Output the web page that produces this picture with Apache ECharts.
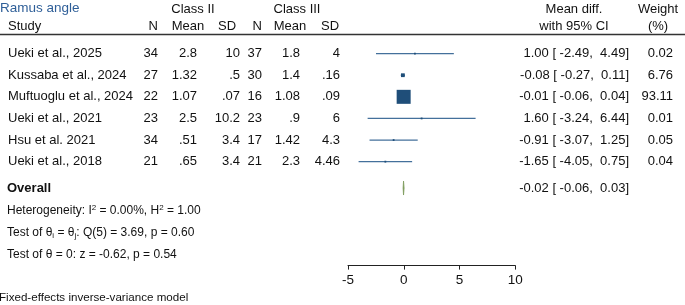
<!DOCTYPE html>
<html>
<head>
<meta charset="utf-8">
<script src="https://cdn.jsdelivr.net/npm/echarts@6/dist/echarts.min.js"></script>
<style>
  html, body { margin: 0; padding: 0; background: #fff; }
  #chart { width: 685px; height: 305px; }
</style>
</head>
<body>
<div id="chart"></div>
<script>
// data
const studies = ['Ueki et al., 2025', 'Kussaba et al., 2024', 'Muftuoglu et al., 2024', 'Ueki et al., 2021', 'Hsu et al. 2021', 'Ueki et al., 2018'];
const nII = ['34', '27', '22', '23', '34', '21'];
const meanII = ['2.8', '1.32', '1.07', '2.5', '.51', '.65'];
const sdII = ['10', '.5', '.07', '10.2', '3.4', '3.4'];
const nIII = ['37', '30', '16', '23', '17', '21'];
const meanIII = ['1.8', '1.4', '1.08', '.9', '1.42', '2.3'];
const sdIII = ['4', '.16', '.09', '6', '4.3', '4.46'];
const meanDiff = [1.00, -0.08, -0.01, 1.60, -0.91, -1.65];
const ciLow = [-2.49, -0.27, -0.06, -3.24, -3.07, -4.05];
const ciHigh = [4.49, 0.11, 0.04, 6.44, 1.25, 0.75];
const weight = [0.02, 6.76, 93.11, 0.01, 0.05, 0.04];
const overall = [-0.02, -0.06, 0.03]; // md, lo, hi
const xTicks = [-5, 0, 5, 10];

const FONT = '"Liberation Sans", Arial, Helvetica, sans-serif';
const TXT = '#111';
const FS = 13;
const SFS = 12; // stats lines
const overallRow = 7.22;
const maxW = Math.max(...weight);

const pad = (s, n) => (' '.repeat(Math.max(0, n - s.length)) + s);
const ciText = (m, l, h) => pad(m.toFixed(2), 5) + ' [' + pad(l.toFixed(2), 6) + ',' + pad(h.toFixed(2), 6) + ']';

var chart = echarts.init(document.getElementById('chart'), null, { renderer: 'canvas' });

let option = {
  animation: false,
  grid: { left: 348, right: 169.7, top: 32, bottom: 39.4 },
  xAxis: {
    type: 'value',
    min: xTicks[0],
    max: xTicks[xTicks.length - 1],
    interval: xTicks[1] - xTicks[0],
    axisLine: { show: true, onZero: false, lineStyle: { color: '#222', width: 1 } },
    axisTick: { show: true, length: 4, lineStyle: { color: '#222' } },
    axisLabel: { color: TXT, fontSize: 13.5, fontFamily: FONT, margin: 8 },
    splitLine: { show: false }
  },
  yAxis: { type: 'value', min: 0, max: 10.81, inverse: true, show: false },
  series: [
    {
      // confidence interval lines
      type: 'custom',
      encode: { x: [0, 1], y: 2 },
      data: studies.map((s, i) => [ciLow[i], ciHigh[i], i + 1]),
      renderItem: function (params, api) {
        const a = api.coord([api.value(0), api.value(2)]);
        const b = api.coord([api.value(1), api.value(2)]);
        return {
          type: 'line',
          shape: { x1: a[0], y1: a[1], x2: b[0], y2: b[1] },
          style: { stroke: '#44709b', lineWidth: 1.3 }
        };
      }
    },
    {
      // weight squares
      type: 'custom',
      encode: { x: 0, y: 1 },
      data: studies.map((s, i) => [meanDiff[i], i + 1, weight[i]]),
      renderItem: function (params, api) {
        const c = api.coord([api.value(0), api.value(1)]);
        const side = Math.max(14 * Math.sqrt(api.value(2) / maxW), 1.8);
        return {
          type: 'rect',
          shape: { x: c[0] - side / 2, y: c[1] - side / 2, width: side, height: side },
          style: { fill: '#1f4e79' }
        };
      }
    },
    {
      // overall diamond
      type: 'custom',
      encode: { x: [0, 1, 2], y: 3 },
      data: [[overall[1], overall[0], overall[2], overallRow]],
      renderItem: function (params, api) {
        const l = api.coord([api.value(0), api.value(3)]);
        const m = api.coord([api.value(1), api.value(3)]);
        const r = api.coord([api.value(2), api.value(3)]);
        const h = 7;
        return {
          type: 'polygon',
          shape: { points: [[l[0], l[1]], [m[0], m[1] - h], [r[0], r[1]], [m[0], m[1] + h]] },
          style: { fill: '#7c9a5b', stroke: '#7c9a5b', lineWidth: 0.8 }
        };
      }
    }
  ]
};
chart.setOption(option);

// table text, rows placed through the y axis
const yOf = v => chart.convertToPixel({ yAxisIndex: 0 }, v);
const txt = (x, y, text, align, extra) => ({
  type: 'text', x: x, y: y,
  style: Object.assign({ text: text, fill: TXT, font: FS + 'px ' + FONT, textAlign: align || 'left', textVerticalAlign: 'middle' }, extra || {})
});

const cols = [
  { vals: studies, x: 8, align: 'left' },
  { vals: nII, x: 158, align: 'right' },
  { vals: meanII, x: 197, align: 'right' },
  { vals: sdII, x: 240, align: 'right' },
  { vals: nIII, x: 262, align: 'right' },
  { vals: meanIII, x: 300, align: 'right' },
  { vals: sdIII, x: 340, align: 'right' },
  { vals: studies.map((s, i) => ciText(meanDiff[i], ciLow[i], ciHigh[i])), x: 629, align: 'right' },
  { vals: weight.map(w => w.toFixed(2)), x: 673, align: 'right' }
];

const g = [];
cols.forEach(c => c.vals.forEach((v, i) => g.push(txt(c.x, yOf(i + 1), v, c.align))));

// headers
g.push(txt(0, 8, 'Ramus angle', 'left', { fill: '#2f5f98', font: '13.5px ' + FONT }));
g.push(txt(193, 9, 'Class II', 'center'));
g.push(txt(297, 9, 'Class III', 'center'));
g.push(txt(574, 9, 'Mean diff.', 'center'));
g.push(txt(658, 9, 'Weight', 'center'));
g.push(txt(8, 26, 'Study', 'left'));
g.push(txt(158, 26, 'N', 'right'));
g.push(txt(188, 26, 'Mean', 'center'));
g.push(txt(227, 26, 'SD', 'center'));
g.push(txt(262, 26, 'N', 'right'));
g.push(txt(290, 26, 'Mean', 'center'));
g.push(txt(330, 26, 'SD', 'center'));
g.push(txt(574, 26, 'with 95% CI', 'center'));
g.push(txt(658, 26, '(%)', 'center'));
g.push({ type: 'line', shape: { x1: 0, y1: 34.5, x2: 685, y2: 34.5 }, style: { stroke: '#333', lineWidth: 1.3 } });

// overall row and stats
const yo = yOf(overallRow);
g.push(txt(7, yo, 'Overall', 'left', { font: 'bold ' + FS + 'px ' + FONT }));
g.push(txt(629, yo, ciText(overall[0], overall[1], overall[2]), 'right'));

const richStyle = {
  sup: { fontSize: 8, fontFamily: FONT, fill: TXT, verticalAlign: 'top', lineHeight: 14 },
  sub: { fontSize: 8, fontFamily: FONT, fill: TXT, verticalAlign: 'bottom', lineHeight: 14 },
  t: { fontSize: SFS, fontFamily: FONT, fill: TXT, lineHeight: 14 }
};
const richText = (y, text) => ({
  type: 'text', x: 7, y: y,
  style: { text: text, rich: richStyle, textVerticalAlign: 'middle', textAlign: 'left', fill: TXT, font: SFS + 'px ' + FONT }
});
g.push(richText(211, '{t|Heterogeneity: I}{sup|2}{t| = 0.00%, H}{sup|2}{t| = 1.00}'));
g.push(richText(233, '{t|Test of θ}{sub|i}{t| = θ}{sub|j}{t|: Q(5) = 3.69, p = 0.60}'));
g.push(richText(254.5, '{t|Test of θ = 0: z = -0.62, p = 0.54}'));
g.push(txt(-1, 298, 'Fixed-effects inverse-variance model', 'left', { font: '11.6px ' + FONT }));

chart.setOption({ graphic: g });
</script>
</body>
</html>
